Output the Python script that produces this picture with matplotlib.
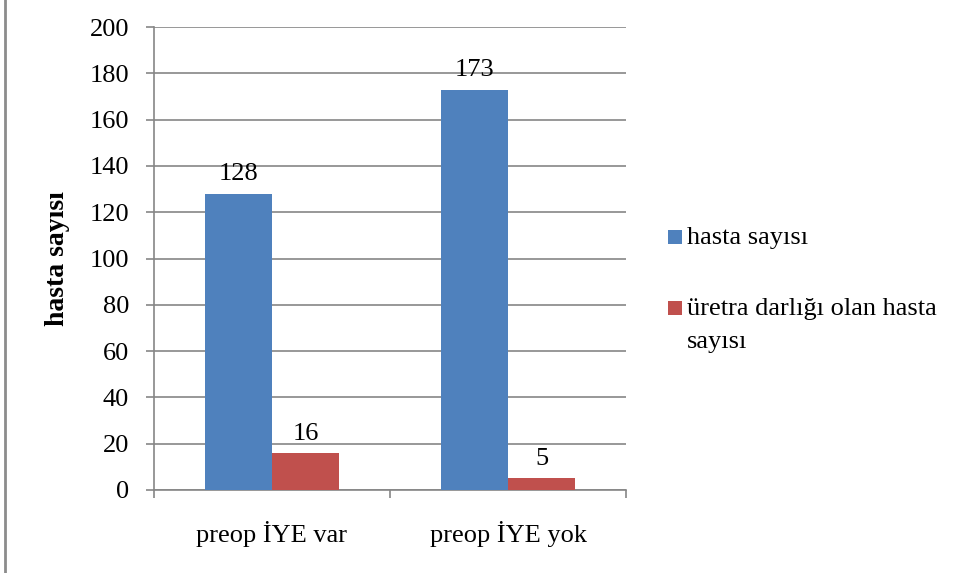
import matplotlib
matplotlib.use("Agg")
import matplotlib.pyplot as plt
from matplotlib.patches import Rectangle
from matplotlib.lines import Line2D
import numpy as np

categories = ["preop İYE var", "preop İYE yok"]
hasta = [128, 173]
darlik = [16, 5]
series_names = ["hasta sayısı", "üretra darlığı olan hasta\nsayısı"]
yticks = [0, 20, 40, 60, 80, 100, 120, 140, 160, 180, 200]

BLUE = "#4F81BD"
RED = "#C0504D"
GRID = "#868686"
FS = 19

plt.rcParams["font.family"] = ["Liberation Serif", "DejaVu Serif"]

W, H = 957, 573
fig = plt.figure(figsize=(W/100, H/100), dpi=100)
ax = fig.add_axes([154/W, 1-490/H, 472/W, 463/H])

x = np.arange(len(categories))
w = 0.284
b1 = ax.bar(x - w/2, hasta, w, color=BLUE, zorder=3)
b2 = ax.bar(x + w/2, darlik, w, color=RED, zorder=3)

for bars, vals in ((b1, hasta), (b2, darlik)):
    for r, v in zip(bars, vals):
        ax.annotate(str(v), (r.get_x() + r.get_width()/2, v), xytext=(0, 6),
                    textcoords="offset points", ha="center", va="bottom", fontsize=FS)

ax.set_xlim(-0.5, 1.5)
ax.set_ylim(0, 200)
ax.set_yticks(yticks)
ax.set_xticks([-0.5, 0.5, 1.5], minor=False)
ax.set_xticklabels(["", "", ""])
ax.set_xticks(x, minor=True)
ax.set_xticklabels(categories, minor=True)
ax.tick_params(axis="x", which="minor", length=0, pad=22, labelsize=FS)
ax.tick_params(axis="x", which="major", length=6, width=1.2, color=GRID, direction="out")
ax.tick_params(axis="y", length=6, width=1.2, color=GRID, pad=12, labelsize=FS)
ax.yaxis.grid(True, color=GRID, linewidth=1.2, zorder=0)
ax.set_axisbelow(True)
for s in ["top", "right"]:
    ax.spines[s].set_visible(False)
for s in ["left", "bottom"]:
    ax.spines[s].set_color(GRID)
    ax.spines[s].set_linewidth(1.2)

ax.set_ylabel("hasta sayısı", fontsize=FS + 1, fontweight="bold", labelpad=14)

# legend (manual, handles aligned with first text line)
leg_colors = [BLUE, RED]
leg_y = [237, 308]
for col, name, yc in zip(leg_colors, series_names, leg_y):
    fig.add_artist(Rectangle((668/W, 1-(yc+7)/H), 14/W, 14/H, transform=fig.transFigure,
                             facecolor=col, edgecolor="none"))
    fig.text(687/W, 1-(yc-10)/H, name, fontsize=FS, ha="left", va="top", linespacing=1.65)

fig.add_artist(Line2D([5/W, 5/W], [0, 1], transform=fig.transFigure, color="#8c8c8c", linewidth=2))

fig.savefig("out.png", dpi=100)
